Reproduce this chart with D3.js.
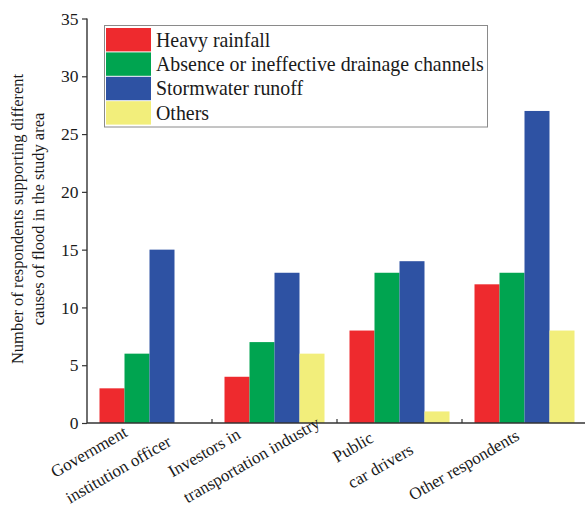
<!DOCTYPE html>
<html>
<head>
<meta charset="utf-8">
<script src="https://cdn.jsdelivr.net/npm/d3@7"></script>
<style>
  html, body { margin: 0; padding: 0; background: #fff; }
  svg { display: block; }
  text { font-family: "Liberation Serif", "Times New Roman", serif; fill: #1a1a1a; }
</style>
</head>
<body>
<svg id="chart" width="585" height="509"></svg>
<script>
// ---- data ----
const categories = ["Government institution officer", "Investors in transportation industry", "Public car drivers", "Other respondents"];
const categoryLines = [["Government", "institution officer"], ["Investors in", "transportation industry"], ["Public", "car drivers"], ["Other respondents"]];
const seriesNames = ["Heavy rainfall", "Absence or ineffective drainage channels", "Stormwater runoff", "Others"];
const heavyRainfall = [3, 4, 8, 12];
const drainage = [6, 7, 13, 13];
const stormwater = [15, 13, 14, 27];
const others = [0, 6, 1, 8];
const yTicks = [0, 5, 10, 15, 20, 25, 30, 35];
const yTitleLines = ["Number of respondents supporting different", "causes of flood in the study area"];

// ---- drawing ----
const seriesValues = [heavyRainfall, drainage, stormwater, others];
const colors = ["#ee2a2e", "#00a450", "#2e52a3", "#f2ee7b"];

const svg = d3.select("#chart");
const x0 = 87, x1 = 587, yBottom = 423, yTop = 18.5;

const x = d3.scaleBand().domain(categories).range([x0, x1]).paddingInner(0).paddingOuter(0);
const xs = d3.scaleBand().domain(seriesNames).range([12.5, x.bandwidth() - 12.5]).padding(0);
const y = d3.scaleLinear().domain([0, 35]).range([yBottom, yTop]);

// bars
const groups = svg.append("g").selectAll("g").data(categories).join("g")
  .attr("transform", d => `translate(${x(d)},0)`);
groups.selectAll("rect")
  .data((c, i) => seriesNames.map((s, j) => ({ s, j, v: seriesValues[j][i] })))
  .join("rect")
  .attr("x", d => xs(d.s))
  .attr("width", xs.bandwidth())
  .attr("y", d => y(d.v))
  .attr("height", d => yBottom - y(d.v))
  .attr("fill", d => colors[d.j]);

// y axis
const yAxis = svg.append("g").attr("transform", `translate(${x0},0)`)
  .call(d3.axisLeft(y).tickValues(yTicks).tickSize(5).tickPadding(3.5).tickFormat(d3.format("d")));
yAxis.select(".domain").attr("stroke", "#333").attr("stroke-width", 1.4).attr("d", `M0,${yBottom}V${yTop}`);
yAxis.selectAll(".tick line").attr("stroke", "#333").attr("stroke-width", 1.2);
yAxis.selectAll(".tick text").attr("font-size", 17.5).attr("fill", "#1a1a1a")
  .style("font-family", '"Liberation Serif", "Times New Roman", serif');

// x axis
svg.append("line").attr("x1", x0).attr("x2", 585).attr("y1", yBottom).attr("y2", yBottom)
  .attr("stroke", "#333").attr("stroke-width", 1.4);
svg.append("g").selectAll("line").data(categories.slice(1)).join("line")
  .attr("x1", d => x(d)).attr("x2", d => x(d))
  .attr("y1", yBottom).attr("y2", yBottom - 4)
  .attr("stroke", "#333").attr("stroke-width", 1.2);

// x labels (rotated)
const labelOffsets = [[-94.5, 478], [-102, 477.5], [-62.5, 463], [-111.5, 501]];
svg.append("g").selectAll("text").data(categories).join("text")
  .attr("transform", (d, i) => `translate(${x(d) + x.bandwidth() / 2 + labelOffsets[i][0]},${labelOffsets[i][1]}) rotate(-30)`)
  .attr("font-size", 17)
  .attr("text-anchor", "start")
  .each(function (d, i) {
    d3.select(this).selectAll("tspan").data(categoryLines[i]).join("tspan")
      .attr("x", 0).attr("dy", (t, k) => k === 0 ? 0 : 30).text(t => t);
  });

// y title
const yt = svg.append("text")
  .attr("transform", `translate(0,219) rotate(-90)`)
  .attr("text-anchor", "middle").attr("font-size", 16.5);
yt.selectAll("tspan").data(yTitleLines).join("tspan")
  .attr("x", 0).attr("y", (t, k) => k === 0 ? 23 : 44).text(t => t);

// legend
const lg = svg.append("g");
lg.append("rect").attr("x", 104.5).attr("y", 25.5).attr("width", 383).attr("height", 101.5)
  .attr("fill", "#fff").attr("stroke", "#8a8a8a").attr("stroke-width", 1);
const rowH = 24.4;
const items = lg.selectAll("g.item").data(seriesNames).join("g").attr("class", "item")
  .attr("transform", (d, i) => `translate(0,${28 + i * rowH})`);
items.append("rect").attr("x", 106).attr("y", 0).attr("width", 45).attr("height", rowH - 1)
  .attr("fill", (d, i) => colors[i]);
items.append("text").attr("x", 156).attr("y", 18.5).attr("font-size", 19.9).text(d => d);
</script>
</body>
</html>
